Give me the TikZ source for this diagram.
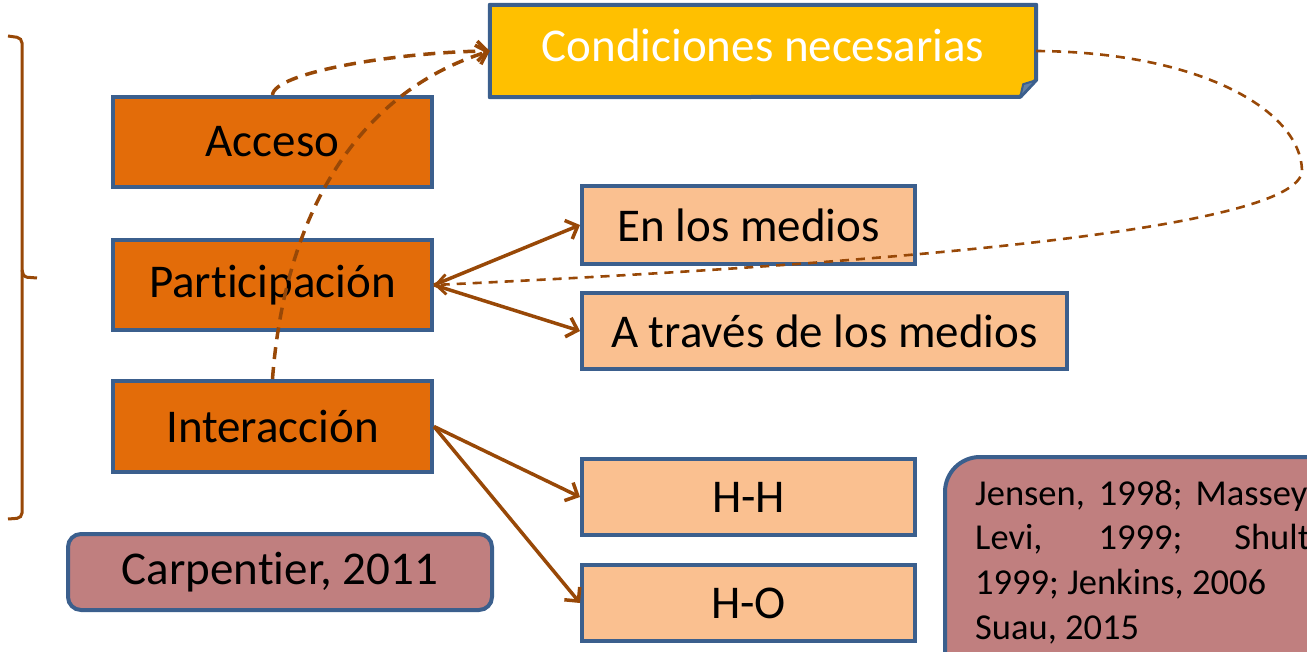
\documentclass[tikz,border=0pt]{standalone}
\usepackage{fontspec}
\setmainfont{Carlito}[Ligatures={NoCommon,NoContextual},Contextuals=NoAlternate]
\usetikzlibrary{arrows.meta,calc}
\definecolor{boxblue}{HTML}{3B5F8D}
\definecolor{orangefill}{HTML}{E36C09}
\definecolor{gold}{HTML}{FFC000}
\definecolor{peach}{HTML}{FAC090}
\definecolor{rose}{HTML}{C07F7F}
\definecolor{brownline}{HTML}{984807}
\begin{document}
\begin{tikzpicture}[x=1pt,y=-1pt,
  basebox/.style={draw=boxblue, line width=4pt, inner sep=0pt, font=\fontsize{47}{56}\selectfont, text=black},
  mainbox/.style={basebox, fill=orangefill, minimum width=319pt, minimum height=90pt},
  subbox/.style={basebox, fill=peach, minimum height=76pt},
  refbox/.style={basebox, fill=rose, rounded corners=13pt},
  tipbarb/.style={-{Straight Barb[length=10pt,width=20pt,line width=3.5pt]}},
  link/.style={draw=brownline, line width=3.5pt, tipbarb},
  dlink/.style={draw=brownline, line width=3.5pt, dash pattern=on 12pt off 8pt, tipbarb},
  thinlink/.style={draw=brownline, line width=2.6pt, dash pattern=on 9pt off 7pt, -{Straight Barb[length=10pt,width=20pt,line width=2.8pt]}},
  reftext/.style={anchor=base west, inner sep=0pt, font=\fontsize{36.5}{44.7}\selectfont}
]
\useasboundingbox (0,0) rectangle (1307,652);
\clip (0,0) rectangle (1307,652);

% bracket
\draw[brownline, line width=3pt, rounded corners=5pt] (8,36) -- (22,38) -- (22,518) -- (8,519);
\draw[brownline, line width=3pt, rounded corners=3pt] (22,270) -- (24,277) -- (37,278);

% main boxes
\node[mainbox] (acc) at (272.5,142) {Acceso};
\node[mainbox] (par) at (272.5,285) {Participación};
\node[mainbox, minimum height=91pt] (int) at (272.5,426.5) {Interacción};

% condiciones (folded corner)
\node[inner sep=0pt, minimum width=546pt, minimum height=92pt] (cond) at (763,51) {};
\filldraw[draw=boxblue, fill=gold, line width=4pt, line join=round]
  (cond.north west) -- (cond.north east) -- ++(0,75) -- ++(-16,17) -- (cond.south west) -- cycle;
\filldraw[draw=boxblue, fill=boxblue!80, line width=2pt, line join=round]
  ($(cond.south east)+(-16,0)$) -- ($(cond.south east)+(-13,-13)$) -- ($(cond.south east)+(0,-17)$) -- cycle;
\node[inner sep=0pt, text=white, font=\fontsize{47}{56}\selectfont] (condtext) at ($(cond.center)+(0,-6)$) {Condiciones necesarias};

% sub boxes
\node[subbox, minimum width=333pt, minimum height=78pt] (med) at (748.5,225) {En los medios};
\node[subbox, minimum width=485pt] (tra) at (824.5,331) {A través de los medios};
\node[subbox, minimum width=333pt] (hh) at (748.5,497) {H-H};
\node[subbox, minimum width=333pt] (ho) at (748.5,603) {H-O};

% reference boxes
\node[refbox, minimum width=424pt, minimum height=76pt] (carp) at (280,572) {Carpentier, 2011};
\node[refbox, rounded corners=35pt, minimum width=395pt, minimum height=233pt] (jen) at (1142.5,573.5) {};
\node[reftext] (j1) at (975,505) {Jensen,\hspace{14pt}1998;\hspace{13pt}Massey};
\node[reftext] (j2) at (975,549.7) {Levi,\hspace{56pt}1999;\hspace{52pt}Shult};
\node[reftext] (j3) at (975,594.4) {1999; Jenkins, 2006};
\node[reftext] (j4) at (975,639.1) {Suau, 2015};

% connectors
\draw[link] (par.east) -- (med.west);
\draw[link] (par.east) -- (tra.west);
\draw[link] (int.east) -- (hh.west);
\draw[link] (int.east) -- (ho.west);

\draw[dlink] (acc.north) .. controls (274,72) and (400,52) .. (cond.west);
\draw[dlink] (int.north) .. controls (284,225) and (350,95) .. (cond.west);

\coordinate (loop) at (1302,170);
\draw[thinlink] (cond.east) .. controls (1200,52) and (1300,110) .. (loop)
  .. controls (1304,235) and (800,268) .. (par.east);
\end{tikzpicture}
\end{document}
